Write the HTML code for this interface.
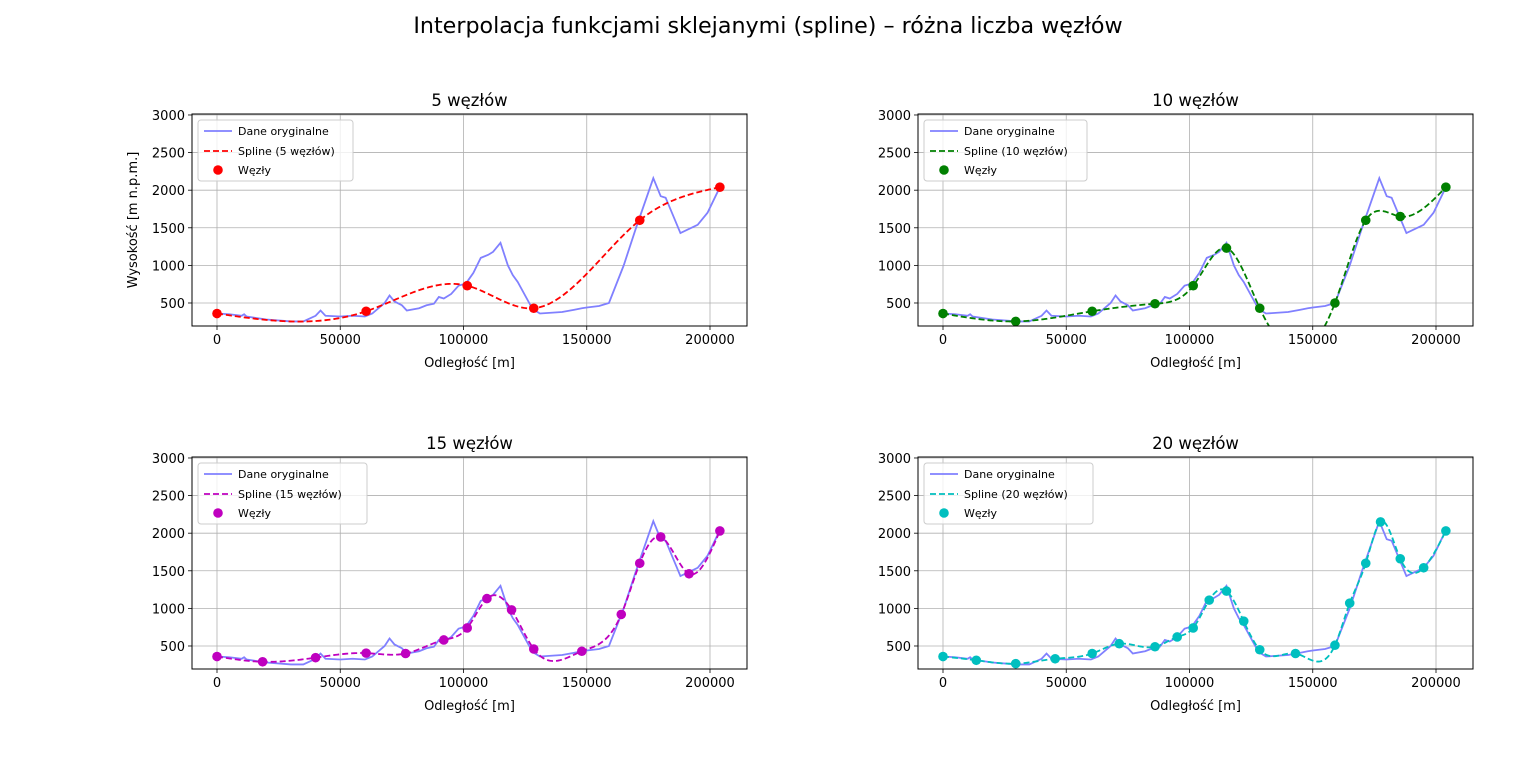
<!DOCTYPE html>
<html><head><meta charset="utf-8"><style>
body{margin:0;background:#fff;}
svg text{font-family:"DejaVu Sans","Liberation Sans",sans-serif;}
</style></head><body>
<svg id="fig" width="1536" height="762" xmlns="http://www.w3.org/2000/svg">
<rect width="1536" height="762" fill="#fff"/>
<text x="768" y="33" font-size="22.2" text-anchor="middle">Interpolacja funkcjami sklejanymi (spline) – różna liczba węzłów</text>
</svg>
<script>
// original profile data
const profX=[0,5000,10000,11000,12000,20000,30000,35000,40000,42000,44000,50000,55000,60000,63000,68000,70000,72000,75000,77000,82000,85000,88000,90000,92000,95000,98000,101000,104000,107000,110000,112000,115000,118000,120000,122000,128000,131000,140000,145000,148000,150000,155000,159000,165000,170000,177000,180000,182000,188000,195000,199000,204000];
const profY=[360,350,330,350,320,280,255,255,330,400,330,320,330,320,360,500,600,520,470,400,430,470,490,580,560,620,730,760,900,1100,1140,1180,1300,1000,870,780,420,360,380,410,430,440,460,500,1000,1500,2160,1920,1900,1430,1540,1700,2040];
// nodes per subplot
const n1X=[0,60500,101500,128500,171500,204000];
const n1Y=[360,390,730,430,1600,2040];
const n2X=[0,29500,60500,86000,101500,115000,128500,159000,171500,185500,204000];
const n2Y=[360,255,390,490,730,1230,430,500,1600,1650,2040];
const n3X=[0,18500,40000,60500,76500,92000,101500,109500,119500,128500,148000,164000,171500,180000,191500,204000];
const n3Y=[360,290,345,405,400,580,740,1130,980,460,430,920,1600,1950,1460,2030];
const n4X=[0,13500,29500,45500,60500,71500,86000,95000,101500,108000,115000,122000,128500,143000,159000,165000,171500,177500,185500,195000,204000];
const n4Y=[360,310,265,330,400,530,490,620,740,1110,1230,830,450,400,510,1070,1600,2150,1660,1540,2030];
const xTicks=[0,50000,100000,150000,200000];
const yTicks=[500,1000,1500,2000,2500,3000];

const NS="http://www.w3.org/2000/svg";
const svg=document.getElementById('fig');
function mk(tag,attrs,parent){const e=document.createElementNS(NS,tag);for(const k in attrs)e.setAttribute(k,attrs[k]);(parent||svg).appendChild(e);return e;}

function spline(xs,ys){
  const n=xs.length,h=[],a=[],l=[1],mu=[0],z=[0],c=new Array(n).fill(0),b=[],d=[];
  for(let i=0;i<n-1;i++)h.push(xs[i+1]-xs[i]);
  for(let i=1;i<n-1;i++)a[i]=3/h[i]*(ys[i+1]-ys[i])-3/h[i-1]*(ys[i]-ys[i-1]);
  for(let i=1;i<n-1;i++){l[i]=2*(xs[i+1]-xs[i-1])-h[i-1]*mu[i-1];mu[i]=h[i]/l[i];z[i]=(a[i]-h[i-1]*z[i-1])/l[i];}
  for(let j=n-2;j>=0;j--){c[j]=(j>0?z[j]:0)-mu[j]*c[j+1];b[j]=(ys[j+1]-ys[j])/h[j]-h[j]*(c[j+1]+2*c[j])/3;d[j]=(c[j+1]-c[j])/(3*h[j]);}
  c[0]=0;
  return x=>{let i=0;while(i<n-2&&x>xs[i+1])i++;const t=x-xs[i];return ys[i]+b[i]*t+c[i]*t*t+d[i]*t*t*t;};
}

const panels=[
 {L:192,T:114,title:'5 węzłów',nx:n1X,ny:n1Y,col:'#ff0000',lab:'Spline (5 węzłów)',ylab:true,id:'5'},
 {L:918,T:114,title:'10 węzłów',nx:n2X,ny:n2Y,col:'#008000',lab:'Spline (10 węzłów)',id:'10'},
 {L:192,T:457,title:'15 węzłów',nx:n3X,ny:n3Y,col:'#bf00bf',lab:'Spline (15 węzłów)',id:'15'},
 {L:918,T:457,title:'20 węzłów',nx:n4X,ny:n4Y,col:'#00bfbf',lab:'Spline (20 węzłów)',id:'20'}
];
const W=555,H=212,XMIN=-10142,XMAX=215010,YMIN=194,YMAX=3013;
panels.forEach(p=>{
  const g=mk('g',{});
  
  
  const sx=v=>p.L+(v-XMIN)/(XMAX-XMIN)*W, sy=v=>p.T+H-(v-YMIN)/(YMAX-YMIN)*H;
  const cp='cp'+p.id;
  const defs=mk('defs',{},g);const clip=mk('clipPath',{id:cp},defs);mk('rect',{x:p.L,y:p.T,width:W,height:H},clip);
  xTicks.forEach(t=>{const x=sx(t);
    mk('line',{x1:x,x2:x,y1:p.T,y2:p.T+H,stroke:'#b0b0b0','stroke-width':0.8},g);
    mk('line',{x1:x,x2:x,y1:p.T+H,y2:p.T+H+4,stroke:'#000','stroke-width':0.8},g);
    const tx=mk('text',{x:x,y:p.T+H+18,'font-size':13,'text-anchor':'middle'},g);tx.textContent=t;
    
    });
  yTicks.forEach(t=>{const y=sy(t);
    mk('line',{x1:p.L,x2:p.L+W,y1:y,y2:y,stroke:'#b0b0b0','stroke-width':0.8},g);
    mk('line',{x1:p.L-4,x2:p.L,y1:y,y2:y,stroke:'#000','stroke-width':0.8},g);
    const tx=mk('text',{x:p.L-7,y:y+5,'font-size':13,'text-anchor':'end'},g);tx.textContent=t;
    
    });
  const orig=mk('polyline',{points:profX.map((x,i)=>sx(x)+','+sy(profY[i])).join(' '),fill:'none',stroke:'#8080ff','stroke-width':1.8,'clip-path':`url(#${cp})`},g);
  
  
  const f=spline(p.nx,p.ny);const pts=[];
  const x0=p.nx[0],x1=p.nx[p.nx.length-1];
  for(let k=0;k<=400;k++){const x=x0+(x1-x0)*k/400;pts.push(sx(x)+','+sy(f(x)));}
  const sp=mk('polyline',{points:pts.join(' '),fill:'none',stroke:p.col,'stroke-width':1.8,'stroke-dasharray':'6,3','clip-path':`url(#${cp})`},g);
  
  
  p.nx.forEach((x,i)=>{const c=mk('circle',{cx:sx(x),cy:sy(p.ny[i]),r:4.8,fill:p.col},g);
    
    });
  mk('rect',{x:p.L,y:p.T,width:W,height:H,fill:'none',stroke:'#000','stroke-width':1},g);
  const tt=mk('text',{x:p.L+W/2,y:p.T-8,'font-size':16.5,'text-anchor':'middle'},g);tt.textContent=p.title;
  
  
  const xl=mk('text',{x:p.L+W/2,y:p.T+H+41,'font-size':13,'text-anchor':'middle'},g);xl.textContent='Odległość [m]';
  
  
  if(p.ylab){const yl=mk('text',{x:0,y:0,'font-size':13,'text-anchor':'middle',transform:`translate(${p.L-55},${p.T+H/2}) rotate(-90)`},g);yl.textContent='Wysokość [m n.p.m.]';
    
    }
  const lg=mk('g',{},g);
  
  
  const lw=p.id==='5'?155:(p.id==='10'?163:169);
  mk('rect',{x:p.L+6,y:p.T+6,width:lw,height:61,rx:3,fill:'#fff','fill-opacity':0.8,stroke:'#ccc'},lg);
  const lx=p.L+12;
  mk('line',{x1:lx,x2:lx+28,y1:p.T+17,y2:p.T+17,stroke:'#8080ff','stroke-width':1.8},lg);
  mk('line',{x1:lx,x2:lx+28,y1:p.T+37,y2:p.T+37,stroke:p.col,'stroke-width':1.8,'stroke-dasharray':'6,3'},lg);
  mk('circle',{cx:lx+14,cy:p.T+56,r:4.8,fill:p.col},lg);
  [['Dane oryginalne',21],['Spline'+p.lab.slice(6),41],['Węzły',60]].forEach(([s,dy])=>{const t=mk('text',{x:lx+34,y:p.T+dy,'font-size':11},lg);t.textContent=s;
    
    });
});
</script>
</body></html>
